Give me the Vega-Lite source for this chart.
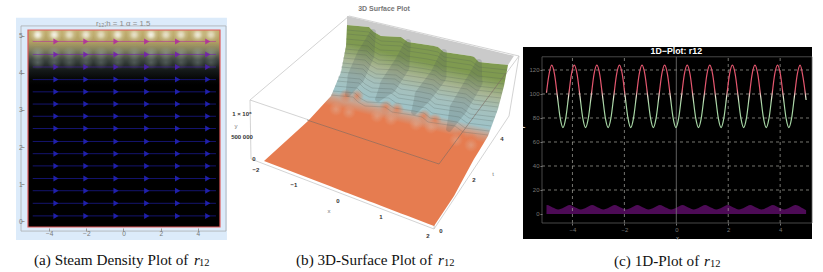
{"$schema":"https://vega.github.io/schema/vega-lite/v6.json","background":"white","padding":{"left":15,"top":5,"right":12,"bottom":2},"bounds":"flush","spacing":26,"config":{"view":{"stroke":null},"font":"Liberation Sans"},
"datasets":{
"streams":[{"x":-4.88,"x2":4.97,"y":0.14},{"x":-4.88,"x2":4.97,"y":0.48},{"x":-4.88,"x2":4.97,"y":0.82},{"x":-4.88,"x2":4.97,"y":1.15},{"x":-4.88,"x2":4.97,"y":1.49},{"x":-4.88,"x2":4.97,"y":1.82},{"x":-4.88,"x2":4.97,"y":2.15},{"x":-4.88,"x2":4.97,"y":2.5},{"x":-4.88,"x2":4.97,"y":2.83},{"x":-4.88,"x2":4.97,"y":3.16},{"x":-4.88,"x2":4.97,"y":3.49},{"x":-4.88,"x2":4.97,"y":3.82},{"x":-4.88,"x2":4.97,"y":4.16},{"x":-4.88,"x2":4.97,"y":4.5},{"x":-4.88,"x2":4.97,"y":4.85}],
"arrows":[
{"x":-3.63,"y":0.14},{"x":-2.02,"y":0.14},{"x":-0.4,"y":0.14},{"x":1.25,"y":0.14},{"x":2.91,"y":0.14},{"x":4.53,"y":0.14},
{"x":-3.63,"y":0.48},{"x":-2.02,"y":0.48},{"x":-0.4,"y":0.48},{"x":1.25,"y":0.48},{"x":2.91,"y":0.48},{"x":4.53,"y":0.48},
{"x":-3.63,"y":0.82},{"x":-2.02,"y":0.82},{"x":-0.4,"y":0.82},{"x":1.25,"y":0.82},{"x":2.91,"y":0.82},{"x":4.53,"y":0.82},
{"x":-3.63,"y":1.15},{"x":-2.02,"y":1.15},{"x":-0.4,"y":1.15},{"x":1.25,"y":1.15},{"x":2.91,"y":1.15},{"x":4.53,"y":1.15},
{"x":-3.63,"y":1.49},{"x":-2.02,"y":1.49},{"x":-0.4,"y":1.49},{"x":1.25,"y":1.49},{"x":2.91,"y":1.49},{"x":4.53,"y":1.49},
{"x":-3.63,"y":1.82},{"x":-2.02,"y":1.82},{"x":-0.4,"y":1.82},{"x":1.25,"y":1.82},{"x":2.91,"y":1.82},{"x":4.53,"y":1.82},
{"x":-3.63,"y":2.15},{"x":-2.02,"y":2.15},{"x":-0.4,"y":2.15},{"x":1.25,"y":2.15},{"x":2.91,"y":2.15},{"x":4.53,"y":2.15},
{"x":-3.63,"y":2.5},{"x":-2.02,"y":2.5},{"x":-0.4,"y":2.5},{"x":1.25,"y":2.5},{"x":2.91,"y":2.5},{"x":4.53,"y":2.5},
{"x":-3.63,"y":2.83},{"x":-2.02,"y":2.83},{"x":-0.4,"y":2.83},{"x":1.25,"y":2.83},{"x":2.91,"y":2.83},{"x":4.53,"y":2.83},
{"x":-3.63,"y":3.16},{"x":-2.02,"y":3.16},{"x":-0.4,"y":3.16},{"x":1.25,"y":3.16},{"x":2.91,"y":3.16},{"x":4.53,"y":3.16},
{"x":-3.63,"y":3.49},{"x":-2.02,"y":3.49},{"x":-0.4,"y":3.49},{"x":1.25,"y":3.49},{"x":2.91,"y":3.49},{"x":4.53,"y":3.49},
{"x":-3.63,"y":3.82},{"x":-2.02,"y":3.82},{"x":-0.4,"y":3.82},{"x":1.25,"y":3.82},{"x":2.91,"y":3.82},{"x":4.53,"y":3.82},
{"x":-3.63,"y":4.16},{"x":-2.02,"y":4.16},{"x":-0.4,"y":4.16},{"x":1.25,"y":4.16},{"x":2.91,"y":4.16},{"x":4.53,"y":4.16},
{"x":-3.63,"y":4.5},{"x":-2.02,"y":4.5},{"x":-0.4,"y":4.5},{"x":1.25,"y":4.5},{"x":2.91,"y":4.5},{"x":4.53,"y":4.5},
{"x":-3.63,"y":4.85},{"x":-2.02,"y":4.85},{"x":-0.4,"y":4.85},{"x":1.25,"y":4.85},{"x":2.91,"y":4.85},{"x":4.53,"y":4.85}],
"spots":[{"x":-5.04,"x2":-4.18,"y":5.16,"y2":4.73,"s":0.95},{"x":-4.15,"x2":-3.29,"y":5.16,"y2":4.73,"s":0.9},{"x":-3.34,"x2":-2.48,"y":5.16,"y2":4.73,"s":0.7},{"x":-2.45,"x2":-1.59,"y":5.16,"y2":4.73,"s":0.8},{"x":-1.64,"x2":-0.78,"y":5.16,"y2":4.73,"s":0.65},{"x":-0.74,"x2":0.12,"y":5.16,"y2":4.73,"s":0.85},{"x":0.15,"x2":1.01,"y":5.16,"y2":4.73,"s":0.7},{"x":1.05,"x2":1.91,"y":5.16,"y2":4.73,"s":0.9},{"x":1.85,"x2":2.71,"y":5.16,"y2":4.73,"s":0.7},{"x":2.66,"x2":3.52,"y":5.16,"y2":4.73,"s":0.7},{"x":3.56,"x2":4.42,"y":5.16,"y2":4.73,"s":0.8},{"x":4.27,"x2":5.13,"y":5.16,"y2":4.73,"s":0.65}],
"streaks":[{"x":-4.99,"x2":-4.23,"y":4.72,"y2":4.34,"s":0.9},{"x":-4.1,"x2":-3.34,"y":4.72,"y2":4.34,"s":0.85},{"x":-3.29,"x2":-2.53,"y":4.72,"y2":4.34,"s":0.7},{"x":-2.4,"x2":-1.64,"y":4.72,"y2":4.34,"s":0.8},{"x":-1.59,"x2":-0.83,"y":4.72,"y2":4.34,"s":0.7},{"x":-0.69,"x2":0.07,"y":4.72,"y2":4.34,"s":0.8},{"x":0.2,"x2":0.96,"y":4.72,"y2":4.34,"s":0.7},{"x":1.1,"x2":1.86,"y":4.72,"y2":4.34,"s":0.85},{"x":1.9,"x2":2.66,"y":4.72,"y2":4.34,"s":0.7},{"x":2.71,"x2":3.47,"y":4.72,"y2":4.34,"s":0.7},{"x":3.61,"x2":4.37,"y":4.72,"y2":4.34,"s":0.8},{"x":4.32,"x2":5.08,"y":4.72,"y2":4.34,"s":0.7},
{"x":-4.99,"x2":-4.23,"y":4.47,"y2":4.09,"s":0.6},{"x":-4.1,"x2":-3.34,"y":4.47,"y2":4.09,"s":0.55},{"x":-3.29,"x2":-2.53,"y":4.47,"y2":4.09,"s":0.45},{"x":-2.4,"x2":-1.64,"y":4.47,"y2":4.09,"s":0.5},{"x":-1.59,"x2":-0.83,"y":4.47,"y2":4.09,"s":0.45},{"x":-0.69,"x2":0.07,"y":4.47,"y2":4.09,"s":0.5},{"x":0.2,"x2":0.96,"y":4.47,"y2":4.09,"s":0.45},{"x":1.1,"x2":1.86,"y":4.47,"y2":4.09,"s":0.55},{"x":1.9,"x2":2.66,"y":4.47,"y2":4.09,"s":0.45},{"x":2.71,"x2":3.47,"y":4.47,"y2":4.09,"s":0.45},{"x":3.61,"x2":4.37,"y":4.47,"y2":4.09,"s":0.5},{"x":4.32,"x2":5.08,"y":4.47,"y2":4.09,"s":0.45}],
"plateau":[{"u":346,"v":17,"v2":26},{"u":368,"v":22.3,"v2":28},{"u":373,"v":23.4,"v2":33},{"u":380,"v":25.1,"v2":37},{"u":400,"v":29.9,"v2":38},{"u":407,"v":31.6,"v2":43},{"u":427,"v":36.3,"v2":46},{"u":437,"v":38.7,"v2":48},{"u":443,"v":40.2,"v2":53},{"u":470,"v":46.6,"v2":57},{"u":478,"v":48.5,"v2":63},{"u":507,"v":55.4,"v2":66},{"u":513,"v":56.7,"v2":56.7}],
"surface":[{"u":263,"v":162,"v2":162},{"u":307,"v":122,"v2":178.8},{"u":330,"v":97,"v2":187.6},{"u":340,"v":73,"v2":191.4},{"u":345,"v":47,"v2":193.4},{"u":346,"v":26,"v2":193.8},{"u":368,"v":28,"v2":202.2},{"u":373,"v":33,"v2":204.1},{"u":380,"v":37,"v2":206.7},{"u":400,"v":38,"v2":214.4},{"u":407,"v":43,"v2":217},{"u":427,"v":46,"v2":224.7},{"u":433,"v":47,"v2":227},{"u":437,"v":48,"v2":221},{"u":443,"v":53,"v2":212},{"u":453,"v":54.5,"v2":197},{"u":470,"v":57,"v2":165.5},{"u":473,"v":58,"v2":160},{"u":478,"v":63,"v2":152},{"u":487,"v":64,"v2":137},{"u":497,"v":65,"v2":110},{"u":503,"v":65.5,"v2":87},{"u":507,"v":66,"v2":66}],
"box":[{"e":"a","i":1,"u":249,"v":101},{"e":"a","i":2,"u":348,"v":17},{"e":"a","i":3,"u":518,"v":57},{"e":"a","i":4,"u":438,"v":165},{"e":"a","i":5,"u":249,"v":101},{"e":"a","i":6,"u":250,"v":160},{"e":"a","i":7,"u":433,"v":230},{"e":"a","i":8,"u":438,"v":165},{"e":"b","i":1,"u":518,"v":57},{"e":"b","i":2,"u":508,"v":117},{"e":"b","i":3,"u":433,"v":230}],
"boxfront":[{"e":"a","i":1,"u":306,"v":121},{"e":"a","i":2,"u":438,"v":165},{"e":"b","i":1,"u":438,"v":165},{"e":"b","i":2,"u":505,"v":74}],
"blobs":[{"u":338,"u2":352,"v":90,"v2":104},{"u":349,"u2":363,"v":90,"v2":104},{"u":378,"u2":392,"v":101,"v2":115},{"u":389,"u2":403,"v":103,"v2":117},{"u":416,"u2":430,"v":110,"v2":124},{"u":427,"u2":441,"v":114,"v2":128},{"u":453,"u2":467,"v":130,"v2":144},{"u":463,"u2":477,"v":133,"v2":147}],
"pales":[{"u":328,"u2":342,"v":103,"v2":117},{"u":341,"u2":355,"v":106,"v2":120},{"u":369,"u2":383,"v":110,"v2":124},{"u":383,"u2":397,"v":113,"v2":127},{"u":408,"u2":422,"v":118,"v2":132},{"u":423,"u2":437,"v":121,"v2":135},{"u":448,"u2":462,"v":134,"v2":148},{"u":463,"u2":477,"v":139,"v2":153}],
"shades":[{"s":1,"i":1,"u":372,"v":33,"w":3},{"s":1,"i":2,"u":365,"v":55,"w":9},{"s":1,"i":3,"u":355,"v":78,"w":9},{"s":1,"i":4,"u":347,"v":95,"w":3},{"s":2,"i":1,"u":407,"v":43,"w":3},{"s":2,"i":2,"u":400,"v":67,"w":9},{"s":2,"i":3,"u":387,"v":87,"w":9},{"s":2,"i":4,"u":377,"v":100,"w":3},{"s":3,"i":1,"u":443,"v":53,"w":3},{"s":3,"i":2,"u":437,"v":77,"w":9},{"s":3,"i":3,"u":422,"v":97,"w":9},{"s":3,"i":4,"u":413,"v":113,"w":3},{"s":4,"i":1,"u":478,"v":63,"w":3},{"s":4,"i":2,"u":473,"v":83,"w":9},{"s":4,"i":3,"u":457,"v":110,"w":9},{"s":4,"i":4,"u":448,"v":130,"w":3}],
"contours":[
{"k":1,"u":346,"v":31},{"k":1,"u":368,"v":33},{"k":1,"u":373,"v":38},{"k":1,"u":380,"v":42},{"k":1,"u":400,"v":43},{"k":1,"u":407,"v":48},{"k":1,"u":427,"v":51},{"k":1,"u":437,"v":53},{"k":1,"u":443,"v":58},{"k":1,"u":470,"v":62},{"k":1,"u":478,"v":68},{"k":1,"u":506,"v":71},
{"k":2,"u":346,"v":35},{"k":2,"u":368,"v":37},{"k":2,"u":373,"v":42},{"k":2,"u":380,"v":46},{"k":2,"u":400,"v":47},{"k":2,"u":407,"v":52},{"k":2,"u":427,"v":55},{"k":2,"u":437,"v":57},{"k":2,"u":443,"v":62},{"k":2,"u":470,"v":66},{"k":2,"u":478,"v":72},{"k":2,"u":505,"v":75},
{"k":3,"u":345,"v":40},{"k":3,"u":367,"v":42},{"k":3,"u":372,"v":47},{"k":3,"u":379,"v":51},{"k":3,"u":399,"v":52},{"k":3,"u":406,"v":57},{"k":3,"u":426,"v":60},{"k":3,"u":436,"v":62},{"k":3,"u":442,"v":67},{"k":3,"u":469,"v":71},{"k":3,"u":477,"v":77},{"k":3,"u":504,"v":80},
{"k":4,"u":345,"v":45},{"k":4,"u":367,"v":47},{"k":4,"u":372,"v":52},{"k":4,"u":379,"v":56},{"k":4,"u":399,"v":57},{"k":4,"u":406,"v":62},{"k":4,"u":426,"v":65},{"k":4,"u":436,"v":67},{"k":4,"u":442,"v":72},{"k":4,"u":469,"v":76},{"k":4,"u":477,"v":82},{"k":4,"u":503,"v":85},
{"k":5,"u":344,"v":50},{"k":5,"u":366,"v":52},{"k":5,"u":371,"v":57},{"k":5,"u":378,"v":61},{"k":5,"u":398,"v":62},{"k":5,"u":405,"v":67},{"k":5,"u":425,"v":70},{"k":5,"u":435,"v":72},{"k":5,"u":441,"v":77},{"k":5,"u":468,"v":81},{"k":5,"u":476,"v":87},{"k":5,"u":502,"v":90},
{"k":6,"u":343,"v":54},{"k":6,"u":365,"v":56},{"k":6,"u":370,"v":61},{"k":6,"u":377,"v":65},{"k":6,"u":397,"v":66},{"k":6,"u":404,"v":71},{"k":6,"u":424,"v":74},{"k":6,"u":434,"v":76},{"k":6,"u":440,"v":81},{"k":6,"u":467,"v":85},{"k":6,"u":475,"v":91},{"k":6,"u":501,"v":94},
{"k":7,"u":342,"v":59},{"k":7,"u":364,"v":61},{"k":7,"u":369,"v":66},{"k":7,"u":376,"v":70},{"k":7,"u":396,"v":71},{"k":7,"u":403,"v":76},{"k":7,"u":423,"v":79},{"k":7,"u":433,"v":81},{"k":7,"u":439,"v":86},{"k":7,"u":466,"v":90},{"k":7,"u":474,"v":96},{"k":7,"u":500,"v":99},
{"k":8,"u":341,"v":64},{"k":8,"u":363,"v":66},{"k":8,"u":368,"v":71},{"k":8,"u":375,"v":75},{"k":8,"u":395,"v":76},{"k":8,"u":402,"v":81},{"k":8,"u":422,"v":84},{"k":8,"u":432,"v":86},{"k":8,"u":438,"v":91},{"k":8,"u":465,"v":95},{"k":8,"u":473,"v":101},{"k":8,"u":498,"v":104},
{"k":9,"u":340,"v":68},{"k":9,"u":362,"v":70},{"k":9,"u":367,"v":75},{"k":9,"u":374,"v":79},{"k":9,"u":394,"v":80},{"k":9,"u":401,"v":85},{"k":9,"u":421,"v":88},{"k":9,"u":431,"v":90},{"k":9,"u":437,"v":95},{"k":9,"u":464,"v":99},{"k":9,"u":472,"v":105},{"k":9,"u":497,"v":108},
{"k":10,"u":339,"v":73},{"k":10,"u":361,"v":75},{"k":10,"u":366,"v":80},{"k":10,"u":373,"v":84},{"k":10,"u":393,"v":85},{"k":10,"u":400,"v":90},{"k":10,"u":420,"v":93},{"k":10,"u":430,"v":95},{"k":10,"u":436,"v":100},{"k":10,"u":463,"v":104},{"k":10,"u":471,"v":110},{"k":10,"u":496,"v":113},
{"k":11,"u":337,"v":78},{"k":11,"u":359,"v":80},{"k":11,"u":364,"v":85},{"k":11,"u":371,"v":89},{"k":11,"u":391,"v":90},{"k":11,"u":398,"v":95},{"k":11,"u":418,"v":98},{"k":11,"u":428,"v":100},{"k":11,"u":434,"v":105},{"k":11,"u":461,"v":109},{"k":11,"u":469,"v":115},{"k":11,"u":494,"v":118},
{"k":12,"u":336,"v":82},{"k":12,"u":358,"v":84},{"k":12,"u":363,"v":89},{"k":12,"u":370,"v":93},{"k":12,"u":390,"v":94},{"k":12,"u":397,"v":99},{"k":12,"u":417,"v":102},{"k":12,"u":427,"v":104},{"k":12,"u":433,"v":109},{"k":12,"u":460,"v":113},{"k":12,"u":468,"v":119},{"k":12,"u":492,"v":122},
{"k":13,"u":334,"v":87},{"k":13,"u":356,"v":89},{"k":13,"u":361,"v":94},{"k":13,"u":368,"v":98},{"k":13,"u":388,"v":99},{"k":13,"u":395,"v":104},{"k":13,"u":415,"v":107},{"k":13,"u":425,"v":109},{"k":13,"u":431,"v":114},{"k":13,"u":458,"v":118},{"k":13,"u":466,"v":124},{"k":13,"u":490,"v":127},
{"k":14,"u":332,"v":92},{"k":14,"u":354,"v":94},{"k":14,"u":359,"v":99},{"k":14,"u":366,"v":103},{"k":14,"u":386,"v":104},{"k":14,"u":393,"v":109},{"k":14,"u":413,"v":112},{"k":14,"u":423,"v":114},{"k":14,"u":429,"v":119},{"k":14,"u":456,"v":123},{"k":14,"u":464,"v":129},{"k":14,"u":488,"v":132},
{"k":15,"u":330,"v":96},{"k":15,"u":352,"v":98},{"k":15,"u":357,"v":103},{"k":15,"u":364,"v":107},{"k":15,"u":384,"v":108},{"k":15,"u":391,"v":113},{"k":15,"u":411,"v":116},{"k":15,"u":421,"v":118},{"k":15,"u":427,"v":123},{"k":15,"u":454,"v":127},{"k":15,"u":462,"v":133},{"k":15,"u":487,"v":136}],
"labels3d":[{"u":255,"v":171,"t":"−2"},{"u":293,"v":186,"t":"−1"},{"u":337,"v":202,"t":"0"},{"u":380,"v":218,"t":"1"},{"u":427,"v":237,"t":"2"},{"u":440,"v":232,"t":"0"},{"u":473,"v":181,"t":"2"},{"u":501,"v":140,"t":"4"},{"u":253,"v":160,"t":"0"},{"u":241,"v":115,"t":"1 × 10⁶"},{"u":241,"v":138,"t":"500 000"}],
"names3d":[{"u":328,"v":212,"t":"x"},{"u":492,"v":175,"t":"t"},{"u":235,"v":127,"t":"y"}],
"wave":[
{"x":-5.0,"y":101},{"x":-4.92,"y":114},{"x":-4.8,"y":124},{"x":-4.69,"y":116.4},{"x":-4.58,"y":98},{"x":-4.47,"y":79.6},{"x":-4.365,"y":72},{"x":-4.26,"y":79.6},{"x":-4.15,"y":98},{"x":-4.04,"y":116.4},
{"x":-3.93,"y":124},{"x":-3.82,"y":116.4},{"x":-3.71,"y":98},{"x":-3.6,"y":79.6},{"x":-3.495,"y":72},{"x":-3.39,"y":79.6},{"x":-3.28,"y":98},{"x":-3.17,"y":116.4},
{"x":-3.06,"y":124},{"x":-2.95,"y":116.4},{"x":-2.84,"y":98},{"x":-2.73,"y":79.6},{"x":-2.625,"y":72},{"x":-2.52,"y":79.6},{"x":-2.41,"y":98},{"x":-2.3,"y":116.4},
{"x":-2.19,"y":124},{"x":-2.08,"y":116.4},{"x":-1.97,"y":98},{"x":-1.86,"y":79.6},{"x":-1.755,"y":72},{"x":-1.65,"y":79.6},{"x":-1.54,"y":98},{"x":-1.43,"y":116.4},
{"x":-1.32,"y":124},{"x":-1.21,"y":116.4},{"x":-1.1,"y":98},{"x":-0.99,"y":79.6},{"x":-0.885,"y":72},{"x":-0.78,"y":79.6},{"x":-0.67,"y":98},{"x":-0.56,"y":116.4},
{"x":-0.45,"y":124},{"x":-0.34,"y":116.4},{"x":-0.23,"y":98},{"x":-0.12,"y":79.6},{"x":-0.015,"y":72},{"x":0.09,"y":79.6},{"x":0.2,"y":98},{"x":0.31,"y":116.4},
{"x":0.42,"y":124},{"x":0.53,"y":116.4},{"x":0.64,"y":98},{"x":0.75,"y":79.6},{"x":0.855,"y":72},{"x":0.96,"y":79.6},{"x":1.07,"y":98},{"x":1.18,"y":116.4},
{"x":1.29,"y":124},{"x":1.4,"y":116.4},{"x":1.51,"y":98},{"x":1.62,"y":79.6},{"x":1.725,"y":72},{"x":1.83,"y":79.6},{"x":1.94,"y":98},{"x":2.05,"y":116.4},
{"x":2.16,"y":124},{"x":2.27,"y":116.4},{"x":2.38,"y":98},{"x":2.49,"y":79.6},{"x":2.595,"y":72},{"x":2.7,"y":79.6},{"x":2.81,"y":98},{"x":2.92,"y":116.4},
{"x":3.03,"y":124},{"x":3.14,"y":116.4},{"x":3.25,"y":98},{"x":3.36,"y":79.6},{"x":3.465,"y":72},{"x":3.57,"y":79.6},{"x":3.68,"y":98},{"x":3.79,"y":116.4},
{"x":3.9,"y":124},{"x":4.01,"y":116.4},{"x":4.12,"y":98},{"x":4.23,"y":79.6},{"x":4.335,"y":72},{"x":4.44,"y":79.6},{"x":4.55,"y":98},{"x":4.66,"y":116.4},
{"x":4.77,"y":124},{"x":4.88,"y":114},{"x":5.0,"y":95}],
"purple":[{"x":-5.0,"y":7.2},{"x":-4.98,"y":7.5},{"x":-4.76,"y":5.5},{"x":-4.55,"y":3.8},{"x":-4.33,"y":5.5},{"x":-4.11,"y":7.5},{"x":-3.89,"y":5.5},{"x":-3.68,"y":3.8},{"x":-3.46,"y":5.5},{"x":-3.24,"y":7.5},{"x":-3.02,"y":5.5},{"x":-2.81,"y":3.8},{"x":-2.59,"y":5.5},{"x":-2.37,"y":7.5},{"x":-2.15,"y":5.5},{"x":-1.94,"y":3.8},{"x":-1.72,"y":5.5},{"x":-1.5,"y":7.5},{"x":-1.28,"y":5.5},{"x":-1.07,"y":3.8},{"x":-0.85,"y":5.5},{"x":-0.63,"y":7.5},{"x":-0.41,"y":5.5},{"x":-0.2,"y":3.8},{"x":0.02,"y":5.5},{"x":0.24,"y":7.5},{"x":0.46,"y":5.5},{"x":0.67,"y":3.8},{"x":0.89,"y":5.5},{"x":1.11,"y":7.5},{"x":1.33,"y":5.5},{"x":1.54,"y":3.8},{"x":1.76,"y":5.5},{"x":1.98,"y":7.5},{"x":2.2,"y":5.5},{"x":2.41,"y":3.8},{"x":2.63,"y":5.5},{"x":2.85,"y":7.5},{"x":3.07,"y":5.5},{"x":3.28,"y":3.8},{"x":3.5,"y":5.5},{"x":3.72,"y":7.5},{"x":3.94,"y":5.5},{"x":4.15,"y":3.8},{"x":4.37,"y":5.5},{"x":4.59,"y":7.5},{"x":4.81,"y":5.5},{"x":5.0,"y":3.2}],
"gridv":[{"x":-4,"y":-7.5,"y2":131},{"x":-2,"y":-7.5,"y2":131},{"x":2,"y":-7.5,"y2":131},{"x":4,"y":-7.5,"y2":131}],
"gridh":[{"x":-5.173,"x2":5.227,"y":20},{"x":-5.173,"x2":5.227,"y":40},{"x":-5.173,"x2":5.227,"y":60},{"x":-5.173,"x2":5.227,"y":80},{"x":-5.173,"x2":5.227,"y":100},{"x":-5.173,"x2":5.227,"y":120}]
},
"hconcat":[
{"width":192,"height":197,
"encoding":{"x":{"field":"x","type":"quantitative","scale":{"domain":[-5.134,5.188],"nice":false,"zero":false},"axis":{"title":null,"values":[-4,-2,0,2,4],"grid":false,"domain":false,"offset":4,"tickSize":-3,"tickColor":"#999999","labelColor":"#777777","labelFontSize":6.5,"labelPadding":2,"zindex":1}},
"y":{"field":"y","type":"quantitative","scale":{"domain":[-0.16,5.16],"nice":false,"zero":false},"axis":{"title":null,"values":[0,1,2,3,4,5],"grid":false,"domain":false,"offset":7,"tickSize":-3,"tickColor":"#999999","labelColor":"#777777","labelFontSize":6.5,"labelPadding":2,"zindex":1}}},
"layer":[
{"data":{"values":[{"x":-5.78,"x2":5.56,"y":5.49,"y2":-0.51}]},"mark":{"type":"rect","fill":"#dcebfa"},"encoding":{"x2":{"field":"x2"},"y2":{"field":"y2"}}},
{"data":{"values":[{"x":-5.51,"x2":5.51,"y":5.27,"y2":-0.27}]},"mark":{"type":"rect","fill":null,"filled":false,"stroke":"#a9adb0","strokeWidth":0.8},"encoding":{"x2":{"field":"x2"},"y2":{"field":"y2"}}},
{"data":{"values":[{"x":-5.134,"x2":5.188,"y":5.16,"y2":-0.16}]},"mark":{"type":"rect","fill":{"gradient":"linear","x1":0,"y1":0,"x2":0,"y2":1,"stops":[{"offset":0,"color":"#c4b070"},{"offset":0.061,"color":"#b09f62"},{"offset":0.102,"color":"#80805f"},{"offset":0.152,"color":"#3c4440"},{"offset":0.203,"color":"#151a1a"},{"offset":0.254,"color":"#040505"},{"offset":0.28,"color":"#000000"},{"offset":1,"color":"#000000"}]}},"encoding":{"x2":{"field":"x2"},"y2":{"field":"y2"}}},
{"data":{"name":"streaks"},"mark":{"type":"rect","fill":{"gradient":"radial","x1":0.5,"y1":0.5,"x2":0.5,"y2":0.5,"r1":0,"r2":0.5,"stops":[{"offset":0,"color":"rgba(165,180,180,0.55)"},{"offset":1,"color":"rgba(165,180,180,0)"}]}},"encoding":{"x2":{"field":"x2"},"y2":{"field":"y2"},"opacity":{"field":"s","type":"quantitative","scale":{"domain":[0,1],"range":[0,1]},"legend":null}}},
{"data":{"name":"spots"},"mark":{"type":"rect","fill":{"gradient":"radial","x1":0.5,"y1":0.3,"x2":0.5,"y2":0.3,"r1":0,"r2":0.5,"stops":[{"offset":0,"color":"rgba(255,255,255,0.95)"},{"offset":0.3,"color":"rgba(250,250,240,0.75)"},{"offset":0.65,"color":"rgba(240,240,220,0.25)"},{"offset":1,"color":"rgba(240,240,220,0)"}]}},"encoding":{"x2":{"field":"x2"},"y2":{"field":"y2"},"opacity":{"field":"s","type":"quantitative","scale":{"domain":[0,1],"range":[0,1]},"legend":null}}},
{"data":{"name":"streams"},"mark":{"type":"rule","strokeWidth":0.7,"opacity":0.85},"encoding":{"x2":{"field":"x2"},"color":{"field":"y","type":"quantitative","scale":{"domain":[3.8,4.16,4.5,4.85],"range":["#2222b8","#4a20b0","#7420ac","#b0309c"],"clamp":true},"legend":null}}},
{"data":{"name":"arrows"},"mark":{"type":"point","shape":"triangle-right","filled":true,"size":36,"opacity":0.9},"encoding":{"color":{"field":"y","type":"quantitative","scale":{"domain":[3.8,4.16,4.5,4.85],"range":["#2222b8","#4a20b0","#7420ac","#b0309c"],"clamp":true},"legend":null}}},
{"data":{"values":[{"x":-5.134,"x2":5.188,"y":5.16,"y2":-0.16}]},"mark":{"type":"rect","fill":null,"filled":false,"stroke":"#e05a5a","strokeWidth":1.2},"encoding":{"x2":{"field":"x2"},"y2":{"field":"y2"}}},
{"data":{"values":[{"x":-0.02,"y":5.32,"t":"r₁₂;h = 1  α = 1.5"}]},"mark":{"type":"text","fontSize":7.8,"color":"#8a8a8a","align":"center","baseline":"middle"},"encoding":{"text":{"field":"t"}}},
{"data":{"values":[{"x":-4.81,"y":-1.054,"t":"(a)  Steam Density Plot of"}]},"mark":{"type":"text","font":"Liberation Serif","fontSize":15.2,"color":"#111111","align":"left","baseline":"middle"},"encoding":{"text":{"field":"t"}}},
{"data":{"values":[{"x":3.79,"y":-1.054,"t":"r"}]},"mark":{"type":"text","font":"Liberation Serif","fontStyle":"italic","fontSize":15.2,"color":"#111111","align":"left","baseline":"middle"},"encoding":{"text":{"field":"t"}}},
{"data":{"values":[{"x":4.06,"y":-1.135,"t":"12"}]},"mark":{"type":"text","font":"Liberation Serif","fontSize":10.5,"color":"#111111","align":"left","baseline":"middle"},"encoding":{"text":{"field":"t"}}}
]},
{"width":270,"height":209,
"encoding":{"x":{"field":"u","type":"quantitative","scale":{"domain":[245,515],"nice":false,"zero":false},"axis":null},"y":{"field":"v","type":"quantitative","scale":{"domain":[240,31],"nice":false,"zero":false},"axis":null}},
"layer":[
{"data":{"name":"box"},"mark":{"type":"line","color":"#c8c8c8","strokeWidth":0.8},"encoding":{"detail":{"field":"e"},"order":{"field":"i"}}},
{"data":{"name":"plateau"},"mark":{"type":"area","color":"#cacaca","opacity":1},"encoding":{"y2":{"field":"v2"}}},
{"data":{"name":"surface"},"mark":{"type":"area","opacity":1,"fill":{"gradient":"linear","x1":0.172,"y1":0.658,"x2":0.34,"y2":0.088,"stops":[{"offset":0,"color":"#e67c50"},{"offset":0.46,"color":"#e67c50"},{"offset":0.53,"color":"#cda08a"},{"offset":0.59,"color":"#9fc3c8"},{"offset":0.74,"color":"#a5c0bc"},{"offset":0.86,"color":"#a8b594"},{"offset":1,"color":"#7f9a50"}]}},"encoding":{"y2":{"field":"v2"}}},
{"data":{"name":"blobs"},"mark":{"type":"rect","fill":{"gradient":"radial","x1":0.5,"y1":0.5,"x2":0.5,"y2":0.5,"r1":0,"r2":0.5,"stops":[{"offset":0,"color":"rgba(230,124,80,0.8)"},{"offset":1,"color":"rgba(230,124,80,0)"}]}},"encoding":{"x2":{"field":"u2"},"y2":{"field":"v2"}}},
{"data":{"name":"pales"},"mark":{"type":"rect","fill":{"gradient":"radial","x1":0.5,"y1":0.5,"x2":0.5,"y2":0.5,"r1":0,"r2":0.5,"stops":[{"offset":0,"color":"rgba(222,170,145,0.6)"},{"offset":1,"color":"rgba(222,170,145,0)"}]}},"encoding":{"x2":{"field":"u2"},"y2":{"field":"v2"}}},
{"data":{"name":"shades"},"mark":{"type":"trail","color":"#4a5a5a","opacity":0.1},"encoding":{"order":{"field":"i"},"detail":{"field":"s"},"size":{"field":"w","type":"quantitative","scale":{"domain":[0,9],"range":[0,17]},"legend":null}}},
{"data":{"name":"shades"},"mark":{"type":"trail","color":"#4a5a5a","opacity":0.12},"encoding":{"order":{"field":"i"},"detail":{"field":"s"},"size":{"field":"w","type":"quantitative","scale":{"domain":[0,9],"range":[0,9]},"legend":null}}},
{"data":{"name":"contours"},"mark":{"type":"line","color":"#4d5a55","strokeWidth":0.5,"opacity":0.45},"encoding":{"detail":{"field":"k"}}},
{"data":{"name":"boxfront"},"mark":{"type":"line","color":"#7a6a62","strokeWidth":0.6},"encoding":{"detail":{"field":"e"},"order":{"field":"i"}}},
{"data":{"name":"labels3d"},"mark":{"type":"text","fontSize":6,"fontWeight":"bold","color":"#333333","align":"center","baseline":"middle"},"encoding":{"text":{"field":"t"}}},
{"data":{"name":"names3d"},"mark":{"type":"text","fontSize":6,"color":"#777777","align":"center","baseline":"middle"},"encoding":{"text":{"field":"t"}}},
{"data":{"values":[{"u":383,"v":10,"t":"3D Surface Plot"}]},"mark":{"type":"text","fontSize":7,"fontWeight":"bold","color":"#777777","align":"center","baseline":"middle"},"encoding":{"text":{"field":"t"}}},
{"data":{"values":[{"u":295,"v":261,"t":"(b)  3D-Surface Plot of"}]},"mark":{"type":"text","font":"Liberation Serif","fontSize":15.2,"color":"#111111","align":"left","baseline":"middle"},"encoding":{"text":{"field":"t"}}},
{"data":{"values":[{"u":437,"v":261,"t":"r"}]},"mark":{"type":"text","font":"Liberation Serif","fontStyle":"italic","fontSize":15.2,"color":"#111111","align":"left","baseline":"middle"},"encoding":{"text":{"field":"t"}}},
{"data":{"values":[{"u":443,"v":264,"t":"12"}]},"mark":{"type":"text","font":"Liberation Serif","fontSize":10.5,"color":"#111111","align":"left","baseline":"middle"},"encoding":{"text":{"field":"t"}}}
]},
{"width":270,"height":193,
"encoding":{"x":{"field":"x","type":"quantitative","scale":{"domain":[-5.173,5.227],"nice":false,"zero":false},"axis":{"title":"x","titleColor":"#aaaaaa","titleFontSize":6,"titleFontWeight":"normal","titlePadding":2,"values":[-4,-2,0,2,4],"grid":false,"domain":false,"tickSize":2,"tickColor":"#777777","labelColor":"#777777","labelFontSize":6,"labelPadding":1,"zindex":1}},
"y":{"field":"y","type":"quantitative","scale":{"domain":[-7.5,153.33],"nice":false,"zero":false},"axis":{"title":"r","titleColor":"#ffffff","titleFontSize":6,"titlePadding":3,"values":[0,20,40,60,80,100,120],"grid":false,"domain":false,"tickSize":2,"tickColor":"#777777","labelColor":"#777777","labelFontSize":6,"labelPadding":1,"zindex":1}}},
"layer":[
{"data":{"values":[{"x":-5.905,"x2":5.227,"y":139.2,"y2":-20.8}]},"mark":{"type":"rect","fill":"#000000"},"encoding":{"x2":{"field":"x2"},"y2":{"field":"y2"}}},
{"data":{"name":"purple"},"mark":{"type":"area","color":"#4d0b56","opacity":1,"interpolate":"monotone"}},
{"data":{"name":"gridv"},"mark":{"type":"rule","color":"#a8a8a0","strokeWidth":0.7,"strokeDash":[3,3]},"encoding":{"y2":{"field":"y2"}}},
{"data":{"name":"gridh"},"mark":{"type":"rule","color":"#a8a8a0","strokeWidth":0.7,"strokeDash":[3,3]},"encoding":{"x2":{"field":"x2"}}},
{"data":{"values":[{"x":0,"y":-7.5,"y2":131}]},"mark":{"type":"rule","color":"#777777","strokeWidth":0.8},"encoding":{"y2":{"field":"y2"}}},
{"data":{"values":[{"x":-5.173,"x2":5.227,"y":131,"y2":-7.5}]},"mark":{"type":"rect","fill":null,"filled":false,"stroke":"#5a5a5a","strokeWidth":0.8},"encoding":{"x2":{"field":"x2"},"y2":{"field":"y2"}}},
{"data":{"name":"wave"},"mark":{"type":"line","interpolate":"monotone","strokeWidth":1.2,"stroke":{"gradient":"linear","x1":0,"y1":0,"x2":0,"y2":1,"stops":[{"offset":0.38,"color":"#e4566e"},{"offset":0.447,"color":"#ee9a9f"},{"offset":0.5,"color":"#e6e6d2"},{"offset":0.62,"color":"#a6d6a4"}]}}},
{"data":{"values":[{"x":0,"y":135.8,"t":"1D−Plot: r12"}]},"mark":{"type":"text","fontSize":8.8,"fontWeight":"bold","color":"#ffffff","align":"center","baseline":"middle"},"encoding":{"text":{"field":"t"}}},
{"data":{"values":[{"x":-2.4,"y":-38.75,"t":"(c)  1D-Plot of"}]},"mark":{"type":"text","font":"Liberation Serif","fontSize":15.2,"color":"#111111","align":"left","baseline":"middle"},"encoding":{"text":{"field":"t"}}},
{"data":{"values":[{"x":1.067,"y":-38.75,"t":"r"}]},"mark":{"type":"text","font":"Liberation Serif","fontStyle":"italic","fontSize":15.2,"color":"#111111","align":"left","baseline":"middle"},"encoding":{"text":{"field":"t"}}},
{"data":{"values":[{"x":1.298,"y":-41.25,"t":"12"}]},"mark":{"type":"text","font":"Liberation Serif","fontSize":10.5,"color":"#111111","align":"left","baseline":"middle"},"encoding":{"text":{"field":"t"}}}
]}
]}
